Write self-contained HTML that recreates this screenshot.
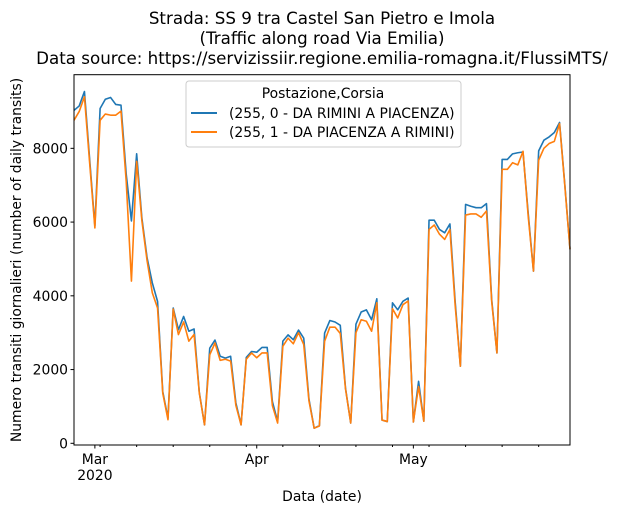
<!DOCTYPE html>
<html><head><meta charset="utf-8"><style>
body{margin:0;background:#fff;}
svg{display:block;font-family:"DejaVu Sans","Liberation Sans",sans-serif;}
</style></head><body>
<svg id="chart" width="618" height="513">
<g font-size="16.7" text-anchor="middle" fill="#000">
<text x="322" y="24">Strada: SS 9 tra Castel San Pietro e Imola</text>
<text x="322" y="44">(Traffic along road Via Emilia)</text>
<text x="322" y="64">Data source: https://servizissiir.regione.emilia-romagna.it/FlussiMTS/</text>
</g>
<g id="grid"></g>
<g id="series"></g>
<rect x="74" y="74.7" width="496" height="370.3" fill="none" stroke="#000" stroke-width="1"/>
<g id="axes" font-size="13.9" fill="#000"></g>
<text x="21" y="260" font-size="13.9" text-anchor="middle" transform="rotate(-90 21 260)">Numero transiti giornalieri (number of daily transits)</text>
<text x="322" y="501" font-size="13.9" text-anchor="middle">Data (date)</text>
<g>
<rect x="186" y="81" width="275" height="66" rx="3" fill="#fff" fill-opacity="0.8" stroke="#ccc"/>
<text x="323" y="98" font-size="13.9" text-anchor="middle">Postazione,Corsia</text>
<line x1="191" y1="113" x2="217" y2="113" stroke="#1f77b4" stroke-width="2"/>
<text x="229" y="118" font-size="13.9">(255, 0 - DA RIMINI A PIACENZA)</text>
<line x1="191" y1="132" x2="217" y2="132" stroke="#ff7f0e" stroke-width="2"/>
<text x="229" y="137" font-size="13.9">(255, 1 - DA PIACENZA A RIMINI)</text>
</g>
</svg>
<script>
const startDate = "2020-02-26";
const seriesRiminiPiacenza = [9030,9150,9540,7700,5900,9080,9330,9380,9190,9170,7300,6030,7850,6110,5030,4350,3850,1400,680,3670,3080,3440,3040,3100,1380,500,2580,2800,2360,2310,2360,1100,500,2330,2490,2470,2600,2600,1130,590,2770,2940,2810,3070,2850,1200,410,480,2990,3330,3290,3200,1500,550,3230,3560,3620,3350,3920,630,590,3810,3620,3850,3940,580,1680,600,6050,6050,5800,5710,5950,3850,2090,6480,6430,6390,6390,6500,3900,2450,7700,7700,7850,7880,7900,6230,4670,7930,8220,8310,8430,8700,7030,5260];
const seriesPiacenzaRimini = [8760,9000,9400,7600,5840,8760,8930,8900,8900,9010,7100,4400,7650,6040,4950,4080,3670,1360,640,3640,2950,3290,2770,2950,1360,500,2400,2720,2250,2280,2230,1030,500,2280,2450,2320,2450,2450,1020,550,2630,2850,2700,3000,2680,1150,410,470,2770,3150,3150,2980,1480,550,3000,3350,3310,3040,3810,630,590,3650,3400,3760,3860,580,1540,600,5800,5920,5670,5530,5800,3750,2090,6190,6220,6220,6130,6300,3850,2450,7430,7430,7610,7550,7920,6150,4670,7680,8000,8130,8190,8670,7000,5260];
const yTicks = [0,2000,4000,6000,8000];
const monthTicks = ["2020-03-01","2020-04-01","2020-05-01"];
const monthLabels = ["Mar","Apr","May"];

const NS="http://www.w3.org/2000/svg";
const DAY=86400000;
const t0=Date.parse(startDate+"T00:00:00Z");
const nDays=seriesRiminiPiacenza.length;
const xL=74, xR=570, yMin=-46, yMax=9997, yTop=74.7, yBot=445;
function xScale(d){return xL+d*(xR-xL)/(nDays-1);}
function yScale(v){return yBot-(v-yMin)*(yBot-yTop)/(yMax-yMin);}
function dayIndex(s){return (Date.parse(s+"T00:00:00Z")-t0)/DAY;}
function mk(tag,attrs,parent){const e=document.createElementNS(NS,tag);for(const k in attrs)e.setAttribute(k,attrs[k]);parent.appendChild(e);return e;}

const axes=document.getElementById('axes');
yTicks.forEach(v=>{
  const y=yScale(v);
  const l=mk('line',{x1:xL-3.5,x2:xL,y1:y,y2:y,stroke:'#000'},axes);
  
  
  const t=mk('text',{x:xL-6,y:y+5,'text-anchor':'end'},axes);
  
  
  t.textContent=v;
});
for(let d=0; d<nDays; d++){
  const dt=new Date(t0+d*DAY);
  if(dt.getUTCDay()===1){
    const l=mk('line',{x1:xScale(d),x2:xScale(d),y1:yBot,y2:yBot+2,stroke:'#000'},axes);
    
    
  }
}
monthTicks.forEach((m,i)=>{
  const x=xScale(dayIndex(m));
  const l=mk('line',{x1:x,x2:x,y1:yBot,y2:yBot+3.5,stroke:'#000'},axes);
  
  
  const t=mk('text',{x:x,y:yBot+19,'text-anchor':'middle'},axes);
  
  
  t.textContent=monthLabels[i];
  if(i===0){
    const t2=mk('text',{x:x,y:yBot+35,'text-anchor':'middle'},axes);
    
    
    t2.textContent="2020";
  }
});
const g=document.getElementById('series');
[[seriesRiminiPiacenza,'#1f77b4','line-rimini-piacenza'],[seriesPiacenzaRimini,'#ff7f0e','line-piacenza-rimini']].forEach(([data,col,name])=>{
  const pts=data.map((v,i)=>xScale(i).toFixed(2)+','+yScale(v).toFixed(2)).join(' ');
  const p=mk('polyline',{points:pts,fill:'none',stroke:col,'stroke-width':1.6,'stroke-linejoin':'round'},g);
  
  
});
</script>
</body></html>
